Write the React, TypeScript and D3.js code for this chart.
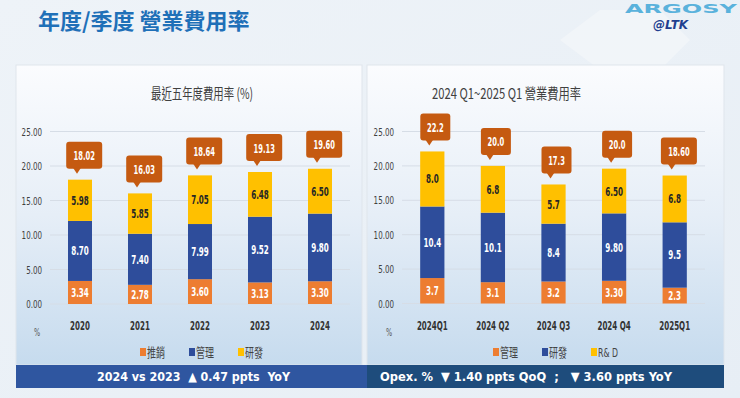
import React, { useEffect } from "react";
import * as d3 from "d3";

// yearly data
const years = ["2020", "2021", "2022", "2023", "2024"];
const yearSales = [3.34, 2.78, 3.6, 3.13, 3.3];
const yearAdmin = [8.7, 7.4, 7.99, 9.52, 9.8];
const yearRnd = [5.98, 5.85, 7.05, 6.48, 6.5];
const yearTotals = ["18.02", "16.03", "18.64", "19.13", "19.60"];
const yearLegend = ["推銷", "管理", "研發"];

// quarterly data
const quarters = ["2024Q1", "2024 Q2", "2024 Q3", "2024 Q4", "2025Q1"];
const qSales = [3.7, 3.1, 3.2, 3.3, 2.3];
const qAdmin = [10.4, 10.1, 8.4, 9.8, 9.5];
const qRnd = [8.0, 6.8, 5.7, 6.5, 6.8];
const qLabels = [
  ["3.7", "3.1", "3.2", "3.30", "2.3"],
  ["10.4", "10.1", "8.4", "9.80", "9.5"],
  ["8.0", "6.8", "5.7", "6.50", "6.8"],
];
const qTotals = ["22.2", "20.0", "17.3", "20.0", "18.60"];
const qLegend = ["管理", "研發", "R& D"];

const yTicks = [0, 5, 10, 15, 20, 25];
const colors = ["#ED7D31", "#2E4D9B", "#FFC000"];
const NUM = "'DejaVu Sans Condensed', 'DejaVu Sans', sans-serif";
const CJK = "'Noto Sans CJK TC', sans-serif";

// narrow text: the source font is much narrower than what we have
function T({ x, y, sx = 0.72, children, ...rest }) {
  return (
    <text transform={`translate(${x},${y}) scale(${sx},1)`} fontFamily={NUM} {...rest}>
      {children}
    </text>
  );
}

function Chart(props) {
  const { cats, series, labels, totals, legend, x0, x1, yBase, title, titleX, titleW, legendX, tickEnd } = props;
  const x = d3.scaleBand().domain(cats).range([x0, x1]).paddingInner(0.6).paddingOuter(0.3);
  const y = d3.scaleLinear().domain([0, 25]).range([yBase, 131.5]);
  const rows = cats.map((c, i) => ({ cat: c, a: series[0][i], b: series[1][i], c: series[2][i] }));
  const stacked = d3.stack().keys(["a", "b", "c"])(rows);
  const bw = x.bandwidth();

  return (
    <g>
      <text x={titleX} y={99} fontFamily={CJK} fontSize={15} fill="#404040"
        textLength={titleW} lengthAdjust="spacingAndGlyphs">{title}</text>
      {yTicks.map((t) => (
        <g key={t}>
          <line x1={x0} x2={x1} y1={y(t)} y2={y(t)} stroke="#d6dde6" strokeWidth={1} />
          <T x={tickEnd} y={y(t) + 4} textAnchor="end" fontSize={11} fill="#404040">
            {d3.format(".2f")(t)}
          </T>
        </g>
      ))}
      {stacked.map((s, si) => (
        <g key={si}>
          {s.map((d, i) => {
            const cx = x(cats[i]) + bw / 2;
            return (
              <g key={i}>
                <rect x={x(cats[i])} y={y(d[1])} width={bw} height={y(d[0]) - y(d[1])} fill={colors[si]} />
                <T x={cx} y={(y(d[0]) + y(d[1])) / 2 + 4.5} sx={0.64} textAnchor="middle" fontWeight="bold"
                  fontSize={12.5} fill={si === 2 ? "#262626" : "#ffffff"}>{labels[si][i]}</T>
              </g>
            );
          })}
        </g>
      ))}
      {cats.map((c, i) => {
        const cx = x(c) + bw / 2;
        const top = y(stacked[2][i][1]);
        const w = totals[i].length * 6 + 6;
        const bot = top - 11;
        const h = 27;
        const left = cx - 3 - 0.3 * w;
        const px = cx - 3;
        return (
          <g key={c}>
            <rect x={left} y={bot - h} width={w} height={h} rx={3} fill="#C55A11" />
            <path d={`M${px - 4},${bot - 1} L${px + 4},${bot - 1} L${px},${bot + 5} Z`} fill="#C55A11" />
            <T x={left + w / 2} y={bot - h / 2 + 5} sx={0.58} textAnchor="middle" fontWeight="bold"
              fontSize={13} fill="#ffffff">{totals[i]}</T>
            <T x={cx} y={330} sx={0.66} textAnchor="middle" fontWeight="bold" fontSize={12} fill="#333">{c}</T>
          </g>
        );
      })}
      <T x={x0 - 16} y={336} fontSize={10} fill="#555">%</T>
      {legend.map((l, i) => (
        <g key={l}>
          <rect x={legendX + i * 49} y={348} width={6} height={8} fill={colors[i]} />
          <text x={legendX + i * 49 + 7} y={357} fontFamily={l.startsWith("R") ? NUM : CJK}
            fontSize={13} fill="#444" textLength={l.startsWith("R") ? 20 : 18}
            lengthAdjust="spacingAndGlyphs">{l}</text>
        </g>
      ))}
    </g>
  );
}

export default function App() {
  useEffect(() => {
    document.body.style.margin = "0";
  }, []);

  return (
    <svg width={740} height={398} style={{ display: "block" }}>
      <defs>
        <linearGradient id="panel" x1="0" y1="0" x2="0" y2="1">
          <stop offset="0" stopColor="#fbfcfe" />
          <stop offset="0.5" stopColor="#e6eef7" />
          <stop offset="1" stopColor="#c6dbee" />
        </linearGradient>
        <linearGradient id="bg" x1="0" y1="0" x2="1" y2="1">
          <stop offset="0" stopColor="#eef3f8" />
          <stop offset="1" stopColor="#e7eef5" />
        </linearGradient>
      </defs>
      <rect width={740} height={398} fill="url(#bg)" />
      <path d="M560,40 L600,10 L660,10 L690,40 L660,70 L600,70 Z" fill="#f4f7fa" opacity={0.7} />
      <text x={38} y={29} fontFamily={CJK} fontWeight="bold" fontSize={22} fill="#1F70B8">年度/季度 營業費用率</text>
      <text x={625} y={13} fontFamily="'DejaVu Sans', sans-serif" fontWeight="bold" fontSize={13}
        fill="#5AB2DC" textLength={112} lengthAdjust="spacingAndGlyphs">ARGOSY</text>
      <text x={653} y={29} fontFamily="'DejaVu Sans', sans-serif" fontWeight="bold" fontStyle="italic"
        fontSize={12} fill="#1F3F8F">@LTK</text>

      <rect x={16} y={65} width={346} height={300} fill="url(#panel)" stroke="#dfe5ec" />
      <rect x={367} y={65} width={357} height={300} fill="url(#panel)" stroke="#dfe5ec" />

      <Chart cats={years} series={[yearSales, yearAdmin, yearRnd]}
        labels={[yearSales, yearAdmin, yearRnd].map((s) => s.map((v) => d3.format(".2f")(v)))}
        totals={yearTotals} legend={yearLegend} x0={50} x1={350} yBase={304}
        title="最近五年度費用率 (%)" titleX={151} titleW={102} legendX={140} tickEnd={42} />
      <Chart cats={quarters} series={[qSales, qAdmin, qRnd]} labels={qLabels}
        totals={qTotals} legend={qLegend} x0={402} x1={705} yBase={303.5}
        title="2024 Q1~2025 Q1 營業費用率" titleX={432} titleW={149} legendX={493} tickEnd={394} />

      <rect x={16} y={365} width={351} height={23} fill="#2F56A0" />
      <rect x={367} y={365} width={357} height={23} fill="#1E4C7C" />
      <text x={97} y={381} fontFamily={NUM} fontWeight="bold" fontSize={13} fill="#fff"
        textLength={193} lengthAdjust="spacingAndGlyphs" xmlSpace="preserve">
        2024 vs 2023  ▲ 0.47 ppts  YoY
      </text>
      <text x={380} y={381} fontFamily={NUM} fontWeight="bold" fontSize={13} fill="#fff"
        textLength={292} lengthAdjust="spacingAndGlyphs" xmlSpace="preserve">
        Opex. %  ▼ 1.40 ppts QoQ  ;   ▼ 3.60 ppts YoY
      </text>
    </svg>
  );
}
